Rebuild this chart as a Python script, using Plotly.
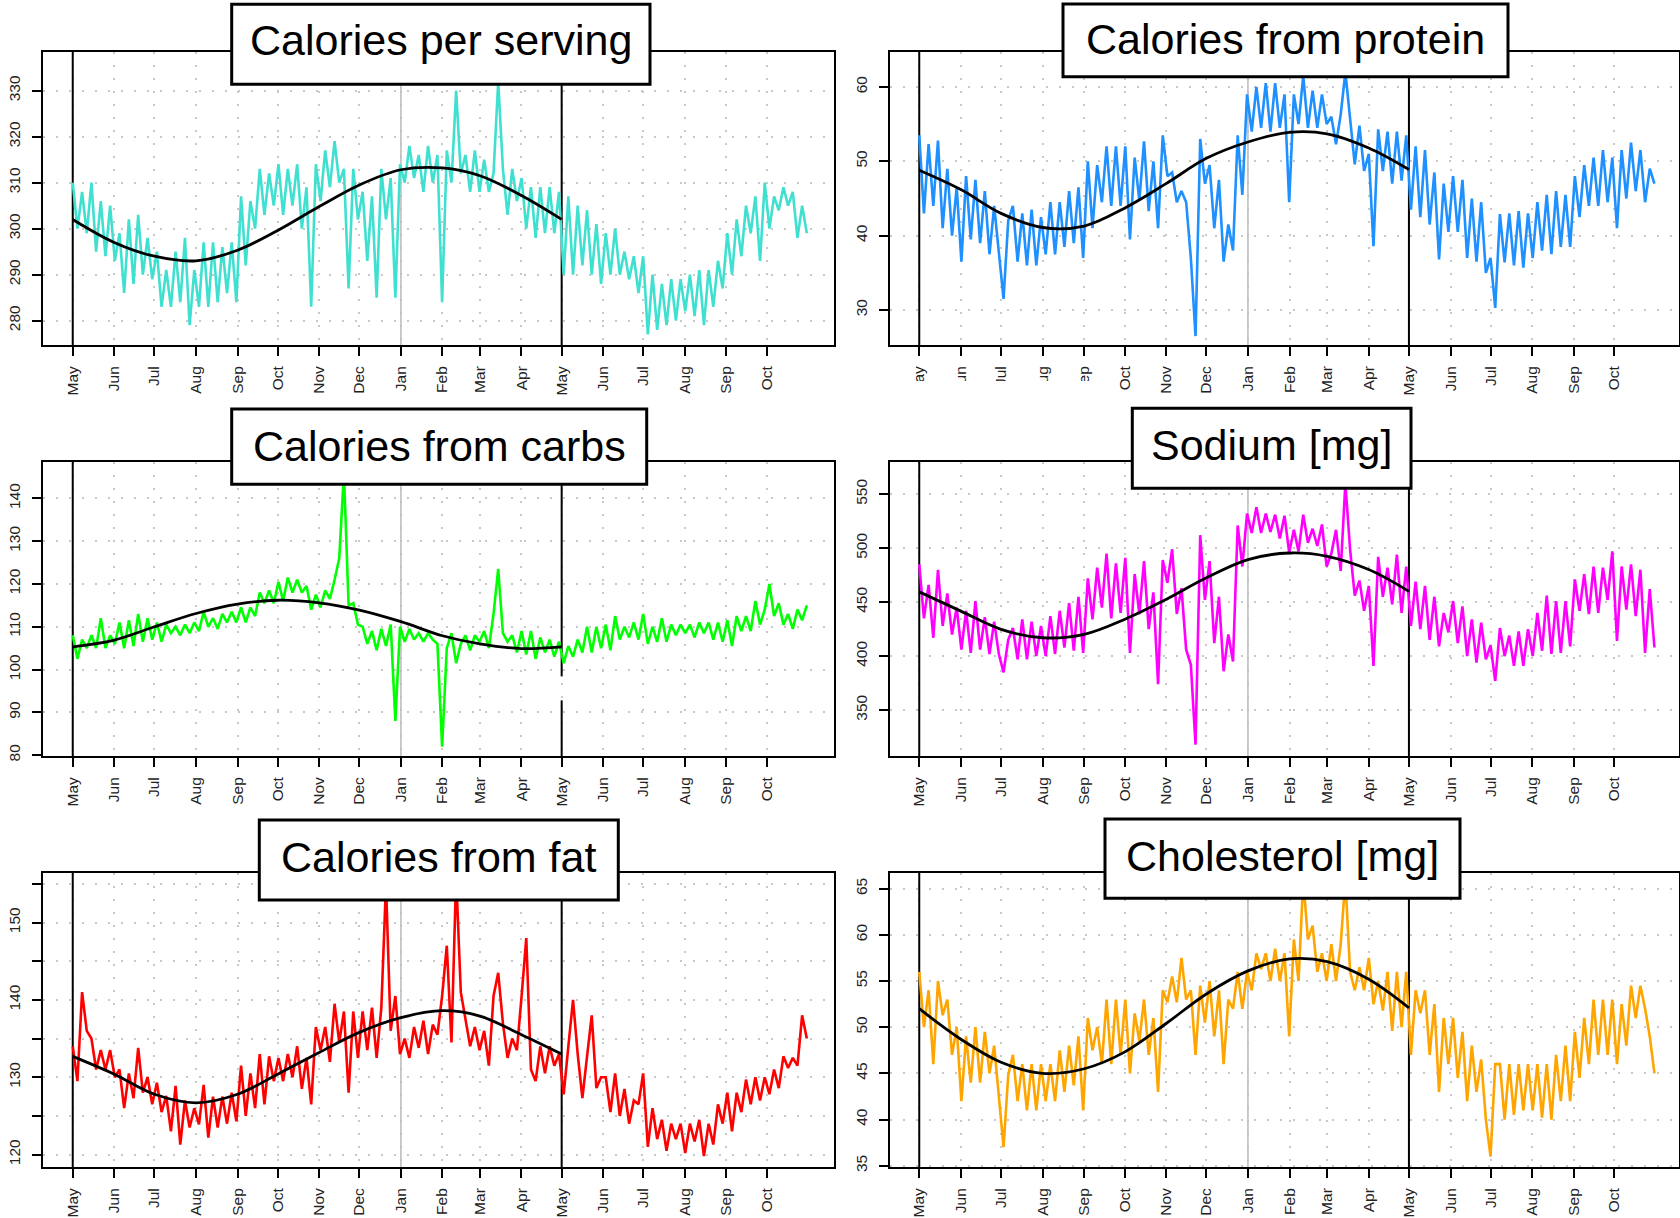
import numpy as np
import pandas as pd
import plotly.graph_objects as go

W, H = 1680, 1218
FONT = "Liberation Sans, Arial, Helvetica, sans-serif"

START = pd.Timestamp("2014-05-01")
END = pd.Timestamp("2015-10-31")
FIT_END = pd.Timestamp("2015-05-01")
JAN = pd.Timestamp("2015-01-01")

MONTH_LABELS = ["May", "Jun", "Jul", "Aug", "Sep", "Oct", "Nov", "Dec", "Jan",
                "Feb", "Mar", "Apr", "May", "Jun", "Jul", "Aug", "Sep", "Oct"]

TITLES = ["Calories per serving", "Calories from protein", "Calories from carbs",
          "Sodium [mg]", "Calories from fat", "Cholesterol [mg]"]

# ---- series values (~every 3.5 days) ----
CAL = [310, 300, 308, 299, 310, 295, 306, 294, 305, 293, 299, 286, 302, 288, 303, 290, 298, 289,
       295, 283, 291, 283, 295, 284, 298, 279, 291, 283, 297, 283, 297, 284, 296, 286, 297, 284,
       307, 292, 306, 300, 313, 303, 312, 305, 314, 303, 313, 305, 314, 300, 309, 283,
       314, 306, 317, 309, 319, 310, 313, 287, 313, 302, 308, 293, 307, 285, 313, 302, 311, 285,
       314, 310, 318, 311, 316, 308, 318, 310, 316, 284, 317, 310, 330, 312, 316, 308, 317, 308,
       315, 308, 312, 332, 313, 303, 313, 306, 311, 300, 309, 298, 309, 299, 309, 299,
       308, 290, 307, 290, 305, 292, 304, 290, 301, 288, 299, 290, 300, 290, 295, 289, 294, 286,
       294, 277, 290, 278, 288, 279, 289, 280, 289, 282, 290, 281, 291, 279, 291, 283, 293, 287,
       299, 290, 302, 294, 305, 299, 307, 293, 310, 300, 307, 304, 309, 305, 308, 298, 305, 299]

PRO = [53.5, 43, 52.3, 44, 52.8, 41, 49, 40, 46.5, 36.5, 48, 39.5, 47.5, 39, 46, 37.5, 44, 37.5,
       31.5, 42, 44, 36.5, 43, 36, 43.5, 36, 42.5, 37.5, 44.5, 37.5, 44.5, 38.5, 46, 39, 46.5, 37,
       50, 41, 49.5, 44.5, 52, 44, 52, 44, 52, 39.5, 50.5, 44.7, 52.7, 43.3, 50, 41,
       53.5, 48, 48.5, 44.5, 46, 44.5, 37, 26.5, 53, 47, 49.5, 41, 47.5, 36.5, 41.5, 38, 53.5, 45.5,
       59, 54, 60, 54.5, 60.5, 54, 60.5, 54.5, 59, 44.5, 59, 55, 61.5, 54.5, 59.5, 54.5, 59, 55,
       56, 52.3, 56.3, 62, 56, 49.6, 54.8, 48.7, 51, 38.6, 54.3, 48.7, 54, 47, 54, 47.4,
       53.5, 43.5, 52, 42.5, 51.5, 41.5, 48.5, 36.8, 47, 40.5, 48, 40.5, 47.5, 37, 45, 36.5, 44.5, 35,
       37, 30.3, 42.9, 36.4, 43, 36, 43.3, 35.7, 43, 37, 44.5, 38, 45.5, 37.5, 46, 38.5, 45.5, 38.5,
       48, 42.5, 49.5, 44, 50.5, 44, 51.5, 44.5, 50.5, 41, 51.5, 45, 52.5, 46, 51.5, 44.5, 49, 47]

CARB = [108, 102.5, 107, 105, 108, 105, 112, 105, 108, 106, 111, 105, 111.5, 105.5, 113, 106.5, 112, 107,
        111, 106.5, 110.5, 108.5, 110, 108, 110.5, 108.5, 111, 109, 113.5, 110, 112, 109.5, 113, 111, 113.5, 111,
        114.5, 111, 114.5, 112.5, 118, 115.5, 118.5, 115.5, 120.5, 116, 121.5, 118, 121, 118, 119.5, 114,
        117.5, 114.5, 118.5, 116.5, 121, 126, 146, 115, 115.5, 110.5, 110, 106, 109, 104.5, 109.5, 105.5, 110.5, 88,
        110, 106.5, 109.5, 107, 108.5, 106.5, 108.5, 107, 106, 82, 105, 108.5, 101.5, 106, 108, 104.5, 108, 106.5,
        109, 105, 113, 123.5, 108.5, 106.5, 108, 104, 109, 103.5, 109, 102.5, 107.5, 104, 107, 103,
        106.5, 101.5, 105.5, 103, 107, 104, 110, 104, 110, 105, 110.5, 104.5, 112.5, 107, 110, 107.5, 111, 107,
        113, 106, 110, 106.5, 112, 106.5, 110.5, 108, 110.5, 108.5, 110.5, 107.5, 111, 108.5, 111, 107, 111, 106.5,
        111.5, 105.5, 112.5, 109, 112.5, 109, 116, 110.5, 114, 120, 112.5, 115.5, 110.5, 113, 109.5, 114, 111.5, 115]

SOD = [485, 435, 466, 417, 480, 428, 458, 420, 445, 406, 442, 403, 451, 406, 436, 402, 432, 402,
       385, 415, 426, 397, 434, 397, 432, 400, 428, 400, 437, 402, 442, 408, 449, 405, 455, 403,
       472, 434, 482, 445, 495, 435, 486, 440, 491, 403, 476, 439, 488, 425, 459, 374,
       489, 468, 499, 439, 463, 406, 392, 318, 512, 452, 488, 412, 455, 386, 420, 395, 521, 483,
       532, 514, 538, 514, 532, 515, 531, 509, 530, 496, 517, 497, 531, 505, 518, 502, 522, 483,
       495, 517, 479, 560, 499, 456, 470, 442, 465, 391, 492, 455, 482, 448, 494, 440,
       483, 428, 469, 425, 465, 415, 455, 409, 440, 422, 451, 412, 446, 400, 434, 394, 431, 397,
       410, 377, 426, 400, 419, 391, 423, 391, 425, 400, 440, 405, 456, 402, 451, 403, 451, 409,
       471, 442, 476, 439, 483, 440, 482, 452, 497, 414, 483, 443, 485, 437, 480, 403, 462, 408]

FAT = [134, 129.5, 141, 136, 135, 131, 133.5, 131, 133.5, 130, 131, 126, 130.5, 127.3, 133.8, 128, 130, 126.5,
       129.3, 125.5, 127.6, 123, 128.9, 121.3, 127, 123.5, 126, 123.9, 129, 122.2, 127.5, 123.5, 127.5, 124, 128, 124.3,
       131.5, 125, 130.5, 126, 133, 126.5, 132.7, 129.5, 132.5, 129.5, 133, 130, 134, 128.5, 132.5, 126.5,
       136.5, 133.5, 136.5, 132, 139.5, 134.5, 138.5, 128, 138.5, 132.5, 138.5, 133.5, 139, 132.5, 139, 155, 136, 140.5,
       133, 135, 132.5, 136.5, 133.8, 137.3, 133, 136.8, 135.5, 140.5, 147, 134.5, 156, 141, 137.5, 134, 136.5, 133.5,
       136, 131.5, 140.5, 143.5, 137, 132.5, 135, 133.5, 140.5, 148, 131, 129.5, 134, 130.5, 134, 131.5,
       133, 127.8, 134, 140, 133, 127.3, 132.7, 138, 128.6, 130, 130, 125.5, 130.5, 125, 128.5, 124, 127, 126.5,
       130.5, 121, 126, 122, 124.5, 120.5, 124, 122, 124, 120.2, 124, 121.7, 124.5, 119.8, 124, 121.3, 126.5, 124,
       128, 123, 128, 125.5, 129.7, 126.5, 130, 127, 130, 127.8, 131, 128.6, 132.7, 131.2, 132.5, 131.5, 138, 135]

CHOL = [56, 50, 54, 46, 55, 51.3, 53, 47, 50, 42, 49, 44, 50, 44, 49.5, 45, 48, 42.5,
        37, 44.8, 47, 42, 46, 41, 46, 41, 46, 42, 46, 42, 47.5, 43, 48, 43.7, 49, 41,
        51, 47.5, 50, 46, 53, 46, 53, 47, 53, 45, 51.5, 48.5, 53, 47, 51, 43,
        54, 52.7, 55.5, 52.7, 57.5, 53, 54, 47, 54.5, 50.5, 55, 49, 54, 46, 53, 52, 56, 52,
        56, 54, 58, 56.3, 58, 55, 58.5, 55, 58, 49, 59.5, 55, 66, 59.5, 61, 56, 58, 55,
        59, 55, 59, 66, 56, 54, 56.5, 54, 57.5, 52.5, 55, 51.8, 56, 49.6, 56, 50,
        56, 47, 54, 51.5, 54, 47, 52.5, 43, 51, 46, 51, 44.5, 49.5, 42, 48, 43, 46.5, 40,
        36, 46, 46, 40, 46, 40.5, 46, 41, 46, 41, 46, 40.2, 46, 40, 47, 42, 48, 42,
        49.5, 44.5, 51, 46, 53, 47, 53, 47, 53, 46, 52.5, 48, 54.5, 51, 54.5, 52, 49, 45]

# seasonal fit, read at each month start May..May
FIT_CAL = [302, 297, 294, 293, 295.3, 299.6, 304.8, 309.5, 312.8, 313.2, 311.5, 307.2, 302]
FIT_PRO = [48.8, 46.2, 43.0, 41.1, 41.3, 43.7, 47.0, 50.4, 52.6, 53.9, 53.7, 51.8, 48.9]
FIT_CARB = [105.3, 106.9, 110, 113.1, 115.3, 116.2, 115.6, 113.9, 111.2, 107.9, 106.0, 104.9, 105.3]
FIT_SOD = [459.5, 441.7, 424.8, 417, 420.2, 434, 452.5, 472.5, 489.4, 495.5, 492.5, 480.2, 460]
FIT_FAT = [132.7, 130.4, 127.8, 126.7, 127.8, 130.4, 133.2, 135.8, 137.7, 138.6, 137.9, 135.5, 133]
FIT_CHOL = [52, 48.7, 46.2, 45, 45.5, 47.3, 50.4, 53.6, 56.1, 57.4, 57.1, 55.2, 52.1]

YT_CAL = [280, 290, 300, 310, 320, 330]
YT_PRO = [30, 40, 50, 60]
YT_CARB = [80, 90, 100, 110, 120, 130, 140]
YT_SOD = [350, 400, 450, 500, 550]
YT_FAT = [120, 125, 130, 135, 140, 145, 150, 155]
YL_FAT = ["120", "", "130", "", "140", "", "150", ""]
YT_CHOL = [35, 40, 45, 50, 55, 60, 65]

COLORS = ["#40E0D0", "#1E90FF", "#00FF00", "#FF00FF", "#FF0000", "#FFA500"]

# ---- layout geometry (pixels) ----
COL_X = [(43, 834), (890, 1679)]
ROW_Y = [(52, 345), (462, 756), (873, 1167)]
COL_XR = [(-22.2, 568.3), (-21.8, 566.3)]

panels = [
    dict(vals=CAL, fit=FIT_CAL, yr=(274.7, 338.4), yt=YT_CAL, yl=None,
         box=(231.7, 4.3, 650, 84.3), tcy=40),
    dict(vals=PRO, fit=FIT_PRO, yr=(25.3, 64.7), yt=YT_PRO, yl=None,
         box=(1063, 4.0, 1508, 76.7), tcy=39.5),
    dict(vals=CARB, fit=FIT_CARB, yr=(79.8, 148.5), yt=YT_CARB, yl=None,
         box=(231.7, 409, 646.7, 484.3), tcy=446),
    dict(vals=SOD, fit=FIT_SOD, yr=(307.5, 579.8), yt=YT_SOD, yl=None,
         box=(1132.3, 408.3, 1411, 488.3), tcy=445),
    dict(vals=FAT, fit=FIT_FAT, yr=(118.4, 156.4), yt=YT_FAT, yl=YL_FAT,
         box=(259.3, 820, 618.3, 900), tcy=856.5),
    dict(vals=CHOL, fit=FIT_CHOL, yr=(34.86, 66.7), yt=YT_CHOL, yl=None,
         box=(1105, 819, 1460, 898.3), tcy=856),
]

span_days = (END - START).days
month_ticks = pd.date_range(START, "2015-10-01", freq="MS")
fit_x = pd.date_range(START, FIT_END, freq="MS")


def iso(ts):
    return ts.strftime("%Y-%m-%d %H:%M:%S")


fig = go.Figure()
shapes = []
annotations = []
layout = {}

tickfont = dict(family=FONT, size=15.5, color="#222222")
GRID = dict(showgrid=True, gridcolor="#C8C8C8", griddash="2px,11px", gridwidth=1.5)

for i, p in enumerate(panels):
    k = i + 1
    row, col = divmod(i, 2)
    xn = "x" if k == 1 else f"x{k}"
    yn = "y" if k == 1 else f"y{k}"
    xa = "xaxis" if k == 1 else f"xaxis{k}"
    ya = "yaxis" if k == 1 else f"yaxis{k}"
    px0, px1 = COL_X[col]
    py0, py1 = ROW_Y[row]
    xr0, xr1 = COL_XR[col]

    # vertical reference lines (drawn as traces so they sit under the data)
    vlines = [(START, "black", 2, p["yr"]), (JAN, "#BEBEBE", 1.6, p["yr"])]
    if k == 3:
        vlines += [(FIT_END, "black", 2, (p["yr"][0], 92.8)),
                   (FIT_END, "black", 2, (98.4, p["yr"][1]))]
    else:
        vlines += [(FIT_END, "black", 2, p["yr"])]
    for xv, colr, wd, (a, b) in vlines:
        fig.add_trace(go.Scatter(x=[xv, xv], y=[a, b], mode="lines", xaxis=xn, yaxis=yn,
                                 line=dict(color=colr, width=wd), hoverinfo="skip",
                                 cliponaxis=True))

    vals = p["vals"]
    days = np.linspace(0, span_days, len(vals))
    xs = START + pd.to_timedelta(days, unit="D")

    fig.add_trace(go.Scatter(x=xs, y=vals, mode="lines", xaxis=xn, yaxis=yn,
                             line=dict(color=COLORS[i], width=2.6), hoverinfo="skip"))
    fig.add_trace(go.Scatter(x=fit_x, y=p["fit"], mode="lines", xaxis=xn, yaxis=yn,
                             line=dict(color="black", width=2.8, shape="spline", smoothing=1.0),
                             hoverinfo="skip"))

    layout[xa] = dict(
        type="date", domain=[px0 / W, px1 / W], anchor=yn,
        range=[iso(START + pd.Timedelta(days=xr0)), iso(START + pd.Timedelta(days=xr1))],
        tickmode="array", tickvals=list(month_ticks), ticktext=MONTH_LABELS,
        tickangle=-90, ticks="outside", ticklen=9, tickwidth=2, tickcolor="black",
        showline=True, linewidth=2, linecolor="black", mirror=True,
        zeroline=False, tickfont=tickfont, ticklabelstandoff=4, **GRID)
    layout[ya] = dict(
        domain=[1 - py1 / H, 1 - py0 / H], anchor=xn, range=list(p["yr"]),
        tickmode="array", tickvals=p["yt"],
        ticktext=p["yl"] if p["yl"] else [str(v) for v in p["yt"]],
        tickangle=-90, ticks="outside", ticklen=9, tickwidth=2, tickcolor="black",
        showline=True, linewidth=2, linecolor="black", mirror=True,
        zeroline=False, tickfont=tickfont, ticklabelstandoff=6, **GRID)

    # title box
    bx0, by0, bx1, by1 = p["box"]
    shapes.append(dict(type="rect", xref="paper", yref="paper",
                       x0=bx0 / W, x1=bx1 / W, y0=1 - by1 / H, y1=1 - by0 / H,
                       fillcolor="white", line=dict(color="black", width=3), layer="above"))
    annotations.append(dict(text=TITLES[i], xref="paper", yref="paper",
                            x=(bx0 + bx1) / 2 / W, y=1 - p["tcy"] / H,
                            xanchor="center", yanchor="middle", showarrow=False,
                            font=dict(family=FONT, size=43, color="black")))

# the reference's top-right panel has the lower part of its first month labels masked
shapes.append(dict(type="rect", xref="paper", yref="paper",
                   x0=870 / W, x1=1105 / W, y0=1 - 402 / H, y1=1 - 381 / H,
                   fillcolor="white", line=dict(width=0), layer="above"))

fig.update_layout(
    width=W, height=H, margin=dict(l=0, r=0, t=0, b=0, autoexpand=False),
    paper_bgcolor="white", plot_bgcolor="white", showlegend=False,
    shapes=shapes, annotations=annotations, **layout)

fig.write_html("out.html", config={"displayModeBar": False},
               post_script="document.body.style.margin='0';document.body.style.overflow='hidden';")
